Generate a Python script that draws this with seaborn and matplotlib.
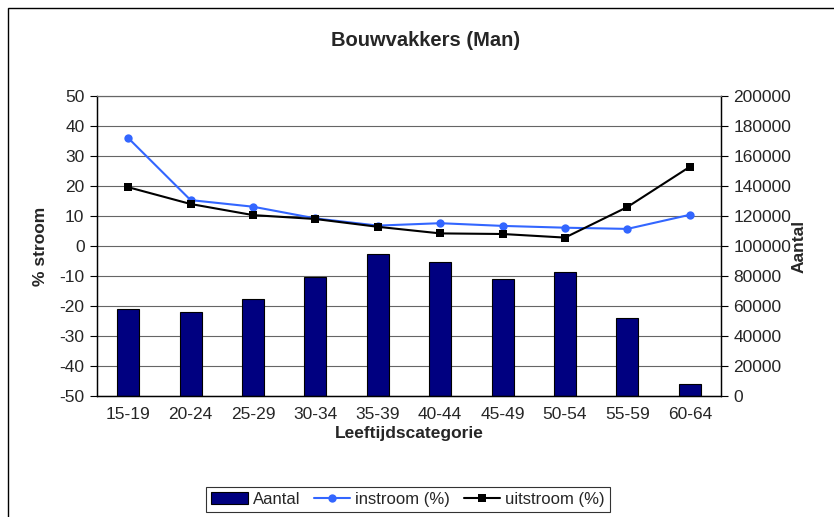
import numpy as np
import matplotlib
matplotlib.use("Agg")
import matplotlib.pyplot as plt
import seaborn as sns
from matplotlib.patches import Rectangle

# data
categories = ['15-19', '20-24', '25-29', '30-34', '35-39',
              '40-44', '45-49', '50-54', '55-59', '60-64']
aantal = [58000, 56200, 64700, 79300, 94400, 89600, 77800, 82900, 51800, 8000]
instroom = [36.0, 15.3, 13.1, 9.2, 6.8, 7.6, 6.7, 6.1, 5.7, 10.4]
uitstroom = [19.6, 14.0, 10.3, 9.0, 6.4, 4.2, 4.0, 2.8, 13.0, 26.4]

sns.set_style("white")
plt.rcParams['font.family'] = ['Liberation Sans', 'DejaVu Sans']
plt.rcParams['axes.unicode_minus'] = False

FS = 12.5

fig = plt.figure(figsize=(8.34, 5.17), dpi=100)
ax = fig.add_axes([97 / 834, 1 - 396 / 517, (721 - 97) / 834, (396 - 96) / 517])

# bars go on the main axis (drawn below)
sns.barplot(x=categories, y=aantal, ax=ax, color='#000080', edgecolor='black',
            linewidth=0.8, width=0.35, saturation=1, label='Aantal')
ax.get_legend().remove()
ax.set_ylim(0, 200000)
ax.set_yticks(np.arange(0, 200001, 20000))
ax.grid(axis='y', color='#666666', linewidth=0.8)
ax.set_axisbelow(True)

# lines on the twin axis
ax2 = ax.twinx()
pos = np.arange(len(categories))
sns.lineplot(x=pos, y=instroom, ax=ax2, color='#3366FF', marker='o',
             markersize=6, markeredgewidth=0, linewidth=1.5, label='instroom (%)')
sns.lineplot(x=pos, y=uitstroom, ax=ax2, color='black', marker='s',
             markersize=6, markeredgewidth=0, linewidth=1.5, label='uitstroom (%)')
ax2.get_legend().remove()
ax2.set_ylim(-50, 50)
ax2.set_yticks(np.arange(-50, 51, 10))

# swap sides: counts on the right, percentages on the left
ax.yaxis.tick_right()
ax.yaxis.set_label_position('right')
ax2.yaxis.tick_left()
ax2.yaxis.set_label_position('left')
ax.set_ylabel('Aantal', fontsize=FS, fontweight='bold', labelpad=0)
ax2.set_ylabel('% stroom', fontsize=FS, fontweight='bold', labelpad=8)

ax.set_xlim(-0.5, len(categories) - 0.5)
ax.set_xticks(pos)
ax.set_xticklabels(categories)
ax.set_xticks(np.arange(-0.5, len(categories), 1), minor=True)
ax.tick_params(axis='x', which='major', length=0, pad=8, labelsize=FS)
ax.tick_params(axis='x', which='minor', length=5, width=0.8, color='black', direction='out')
ax.tick_params(axis='y', length=5, width=0.8, color='black', labelsize=FS, pad=4)
ax2.tick_params(axis='y', length=5, width=0.8, color='black', labelsize=FS, pad=4)
ax.set_xlabel('Leeftijdscategorie', fontsize=FS, fontweight='bold', labelpad=3)

for a in (ax, ax2):
    a.spines['top'].set_color('#666666')
    a.spines['top'].set_linewidth(0.8)
    for s in ('left', 'right', 'bottom'):
        a.spines[s].set_color('black')
        a.spines[s].set_linewidth(0.9)

fig.text(426 / 834, 1 - 40 / 517, 'Bouwvakkers (Man)', ha='center', va='center',
         fontsize=14.5, fontweight='bold')

h1, l1 = ax.get_legend_handles_labels()
h2, l2 = ax2.get_legend_handles_labels()
leg = fig.legend(h1 + h2, l1 + l2, loc='upper center', ncol=3,
                 bbox_to_anchor=(408 / 834, 1 - 487 / 517), borderaxespad=0,
                 fontsize=12, frameon=True, fancybox=False, edgecolor='black',
                 handlelength=2.2, columnspacing=0.8, handletextpad=0.3,
                 borderpad=0.3)
leg.get_frame().set_linewidth(0.8)

# outer chart border (only top/left fall inside the picture)
fig.patches.append(Rectangle((8 / 834, -0.1), 1.0, 1.1 - 8 / 517, transform=fig.transFigure,
                             fill=False, edgecolor='black', linewidth=1))

fig.savefig('out.png', dpi=100)
